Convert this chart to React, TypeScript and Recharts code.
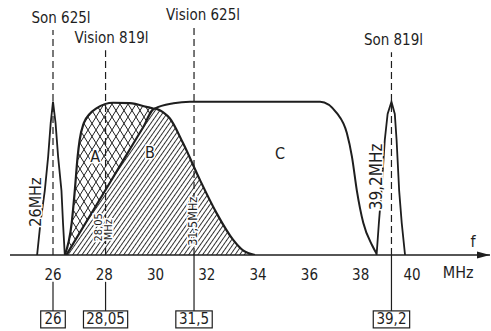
import React from "react";
import { ComposedChart, Area, XAxis, YAxis, ReferenceLine, ReferenceDot } from "recharts";

const FONT = "'DejaVu Sans Condensed', 'DejaVu Sans', sans-serif";
const INK = "#1e1e1e";

const ticks = [26, 28, 30, 32, 34, 36, 38, 40];

// f = frequency in MHz, v = relative response (1 = full)
const son625Curve = [
  { f: 25.38, v: 0 }, { f: 25.51, v: 0.21 }, { f: 25.68, v: 0.42 }, { f: 25.81, v: 0.64 },
  { f: 25.91, v: 0.86 }, { f: 26.0, v: 1.0 }, { f: 26.1, v: 0.86 }, { f: 26.2, v: 0.64 },
  { f: 26.33, v: 0.42 }, { f: 26.39, v: 0.21 }, { f: 26.46, v: 0 },
];
const curveA = [
  { f: 26.46, v: 0 }, { f: 26.73, v: 0.21 }, { f: 26.85, v: 0.42 }, { f: 26.96, v: 0.64 },
  { f: 27.04, v: 0.75 }, { f: 27.2, v: 0.86 }, { f: 27.43, v: 0.92 }, { f: 27.69, v: 0.956 },
  { f: 28.35, v: 0.993 }, { f: 28.99, v: 0.99 }, { f: 29.64, v: 0.966 }, { f: 29.97, v: 0.95 },
  { f: 30.5, v: 0.8 }, { f: 31, v: 0.5 }, { f: 31.5, v: 0.2 }, { f: 32, v: 0 },
];
const curveB = [
  { f: 26.52, v: 0 }, { f: 27.5, v: 0.272 }, { f: 28.5, v: 0.55 }, { f: 29.5, v: 0.828 },
  { f: 29.97, v: 0.955 }, { f: 30.3, v: 0.93 }, { f: 30.56, v: 0.89 }, { f: 31.07, v: 0.73 },
  { f: 31.73, v: 0.49 }, { f: 32.39, v: 0.27 }, { f: 33.02, v: 0.1 }, { f: 33.41, v: 0.03 },
  { f: 33.88, v: 0 },
];
const curveC = [
  { f: 27, v: 0 }, { f: 28, v: 0.3 }, { f: 29, v: 0.72 }, { f: 29.6, v: 0.9 },
  { f: 29.97, v: 0.955 }, { f: 30.7, v: 0.99 }, { f: 31.34, v: 1 }, { f: 36.42, v: 1 },
  { f: 37.07, v: 0.925 }, { f: 37.46, v: 0.795 }, { f: 37.66, v: 0.64 }, { f: 37.85, v: 0.42 },
  { f: 38.1, v: 0.21 }, { f: 38.44, v: 0.065 }, { f: 38.65, v: 0 },
];
const son819Curve = [
  { f: 38.62, v: 0 }, { f: 38.71, v: 0.21 }, { f: 38.81, v: 0.42 }, { f: 38.94, v: 0.75 },
  { f: 39.05, v: 0.92 }, { f: 39.2, v: 1.0 }, { f: 39.33, v: 0.92 }, { f: 39.4, v: 0.75 },
  { f: 39.5, v: 0.42 }, { f: 39.6, v: 0.21 }, { f: 39.73, v: 0 },
];

// carriers: frequency, name above the dashed line, boxed value below the axis
const markerFreqs = [26, 28.05, 31.5, 39.2];
const markerNames = ["Son 625l", "Vision 819l", "Vision 625l", "Son 819l"];
const markerBoxes = ["26", "28,05", "31,5", "39,2"];
const markerTops = [1.467, 1.336, 1.49, 1.323];

const BOX_V = -0.42;

const sideLabels = [
  { text: "26MHz", f: 25.3, v: 0.345, size: 16 },
  { text: "28,05", f: 27.76, v: 0.18, size: 11 },
  { text: "MHz", f: 28.17, v: 0.165, size: 11 },
  { text: "31,5MHz", f: 31.44, v: 0.22, size: 12.5 },
  { text: "39,2MHz", f: 38.6, v: 0.51, size: 17 },
];
const plainLabels = [
  { text: "A", f: 27.64, v: 0.64 },
  { text: "B", f: 29.78, v: 0.67 },
  { text: "C", f: 34.85, v: 0.665 },
  { text: "f", f: 42.38, v: 0.09 },
  { text: "MHz", f: 41.8, v: -0.117 },
];

function TextMark({ cx, cy, text, size = 15, rotate = 0, dx = 0, halo = false }: any) {
  const x = cx + dx;
  return (
    <text
      x={x}
      y={cy}
      textAnchor="middle"
      dominantBaseline="central"
      fontFamily={FONT}
      fontSize={size}
      fill={INK}
      stroke={halo ? "#fff" : "none"}
      strokeWidth={halo ? 3 : 0}
      paintOrder="stroke"
      transform={rotate ? `rotate(${rotate} ${x} ${cy})` : undefined}
    >
      {text}
    </text>
  );
}

function BoxMark({ cx, cy, text }: any) {
  const digits = text.replace(",", "").length;
  const w = digits * 7.8 + (text.includes(",") ? 4 : 0) + 9;
  return (
    <g>
      <rect x={cx - w / 2} y={cy - 8.5} width={w} height={17} fill="#fff" stroke={INK} strokeWidth={1.2} />
      <text x={cx} y={cy} textAnchor="middle" dominantBaseline="central" fontFamily={FONT} fontSize={15} fill={INK}>
        {text}
      </text>
    </g>
  );
}

function Arrow({ cx, cy }: any) {
  return <path d={`M${cx},${cy} L${cx - 13},${cy - 3.5} L${cx - 13},${cy + 3.5} Z`} fill={INK} />;
}

const nameOffsets = [8, 6, 9, 2];

export default function App() {
  return (
    <div style={{ position: "absolute", left: 0, top: 0, background: "#fff" }}>
      <ComposedChart width={491} height={331} margin={{ top: 25, right: 1, left: 10, bottom: 0 }}>
        <defs>
          <pattern id="cross" width="8" height="13" patternUnits="userSpaceOnUse">
            <rect width="8" height="13" fill="#fff" />
            <path d="M0,0 L8,13 M8,0 L0,13" stroke={INK} strokeWidth="1" />
          </pattern>
          <pattern id="hatch" width="3.8" height="3.8" patternUnits="userSpaceOnUse" patternTransform="rotate(35)">
            <rect width="3.8" height="3.8" fill="#fff" />
            <line x1="0.5" y1="0" x2="0.5" y2="3.8" stroke={INK} strokeWidth="0.9" />
          </pattern>
        </defs>
        <XAxis
          dataKey="f"
          type="number"
          domain={[24.323, 43.043]}
          allowDataOverflow
          ticks={ticks}
          tickSize={0}
          tickMargin={14}
          height={76}
          axisLine={{ stroke: INK, strokeWidth: 1.5 }}
          tick={{ fill: INK, fontSize: 15, fontFamily: FONT }}
        />
        <YAxis hide type="number" domain={[0, 1.5]} allowDataOverflow />

        <Area data={curveC} dataKey="v" type="monotone" stroke={INK} strokeWidth={2} fill="none" dot={false} activeDot={false} isAnimationActive={false} />
        <Area data={curveA} dataKey="v" type="monotone" stroke={INK} strokeWidth={2.2} fill="url(#cross)" fillOpacity={1} dot={false} activeDot={false} isAnimationActive={false} />
        <Area data={curveB} dataKey="v" type="monotone" stroke={INK} strokeWidth={2.2} fill="url(#hatch)" fillOpacity={1} dot={false} activeDot={false} isAnimationActive={false} />
        <Area data={son625Curve} dataKey="v" type="linear" stroke={INK} strokeWidth={1.8} fill="#fff" fillOpacity={1} dot={false} activeDot={false} isAnimationActive={false} />
        <Area data={son819Curve} dataKey="v" type="linear" stroke={INK} strokeWidth={1.8} fill="#fff" fillOpacity={1} dot={false} activeDot={false} isAnimationActive={false} />

        {markerFreqs.map((f, i) => (
          <ReferenceLine
            key={`d${i}`}
            segment={[{ x: f, y: 0 }, { x: f, y: markerTops[i] }]}
            stroke={INK}
            strokeWidth={1.2}
            strokeDasharray="7 4"
            ifOverflow="visible"
          />
        ))}
        {markerFreqs.map((f, i) => {
          const clash = ticks.some((t) => Math.abs(t - f) < 0.3);
          return (
            <ReferenceLine
              key={`s${i}`}
              segment={[{ x: f, y: clash ? -0.175 : 0 }, { x: f, y: BOX_V }]}
              stroke={INK}
              strokeWidth={1.2}
              ifOverflow="visible"
            />
          );
        })}
        {markerFreqs.map((f, i) => (
          <ReferenceDot
            key={`b${i}`}
            x={f}
            y={BOX_V}
            ifOverflow="visible"
            shape={(p: any) => <BoxMark cx={p.cx} cy={p.cy} text={markerBoxes[i]} />}
          />
        ))}
        {markerFreqs.map((f, i) => (
          <ReferenceDot
            key={`n${i}`}
            x={f}
            y={markerTops[i]}
            ifOverflow="visible"
            shape={(p: any) => <TextMark cx={p.cx} cy={p.cy - 12} dx={nameOffsets[i]} text={markerNames[i]} size={15} />}
          />
        ))}
        {sideLabels.map((l, i) => (
          <ReferenceDot
            key={`r${i}`}
            x={l.f}
            y={l.v}
            ifOverflow="visible"
            shape={(p: any) => <TextMark cx={p.cx} cy={p.cy} text={l.text} size={l.size} rotate={-90} halo />}
          />
        ))}
        {plainLabels.map((l, i) => (
          <ReferenceDot
            key={`p${i}`}
            x={l.f}
            y={l.v}
            ifOverflow="visible"
            shape={(p: any) => <TextMark cx={p.cx} cy={p.cy} text={l.text} size={16} halo={i < 2} />}
          />
        ))}
        <ReferenceDot x={43.043} y={0} ifOverflow="visible" shape={(p: any) => <Arrow cx={p.cx} cy={p.cy} />} />
      </ComposedChart>
    </div>
  );
}
